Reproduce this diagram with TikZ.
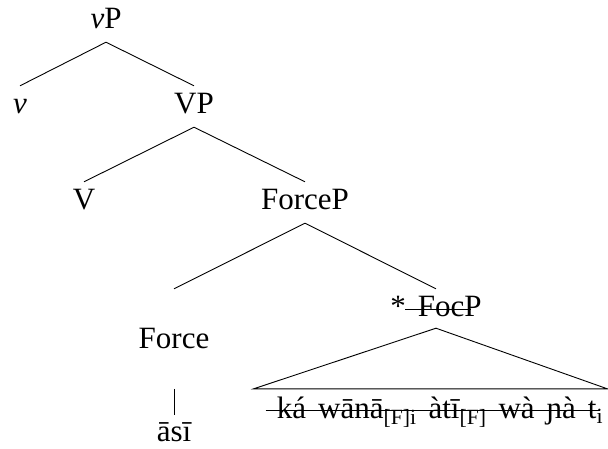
\documentclass[tikz,border=0pt]{standalone}
\usepackage{fontspec}
\setmainfont{Liberation Serif}
\usetikzlibrary{calc}

\newcommand\widegaps{\spaceskip 12pt\relax}

\tikzset{
 lab/.style={anchor=base, inner sep=0pt, text height=22pt, text depth=8pt, font=\fontsize{31}{37}\selectfont\widegaps},
 branch/.style={black, line width=.9pt},
 strike/.style={black, line width=.9pt},
}

\begin{document}
\begin{tikzpicture} [x=1pt,y=-1pt]
\useasboundingbox (0,0) rectangle (608,448);
\node[lab] (vP) at (106,28) {\textit{v}P};
\node[lab] (v) at (20,113) {\textit{v}};
\node[lab] (VP) at (194,113) {VP};
\node[lab] (V) at (84,209) {V};
\node[lab] (ForceP) at (305,209) {ForceP};
\node[lab] (FocP) at (436,316) {* FocP};
\node[lab] (Force) at (174,348) {Force};
\node[lab] (gloss) at (440,418) {ká wānā\textsubscript{[F]i} àtī\textsubscript{[F]} wà ɲà t\textsubscript{i}};
\node[lab] (asi) at (174,441) {āsī};
\foreach \a/\b in {vP/v, vP/VP, VP/V, VP/ForceP, ForceP/FocP} {
 \draw[branch] ([yshift=-6pt]\a.south) -- ([yshift=5pt]\b.north);
}
\coordinate (forceTop) at (Force.north |- FocP.north);
\draw[branch] ([yshift=-6pt]ForceP.south) -- ([yshift=5pt]forceTop);
\coordinate (roofL) at ([xshift=-23pt,yshift=7pt]gloss.north west);
\coordinate (roofR) at ([xshift=4pt,yshift=7pt]gloss.north east);
\draw[branch] ([yshift=-4pt]FocP.south) -- (roofL) -- (roofR) -- cycle;
\draw[branch] (Force |- roofL) -- ([yshift=4pt]asi.north);
\draw[strike] ([xshift=15pt,yshift=7pt]FocP.base west) -- ([xshift=-11pt,yshift=7pt]FocP.base east);
\draw[strike] ([xshift=-11pt,yshift=8pt]gloss.base west) -- ([xshift=-3pt,yshift=8pt]gloss.base east);
\end{tikzpicture}
\end{document}
